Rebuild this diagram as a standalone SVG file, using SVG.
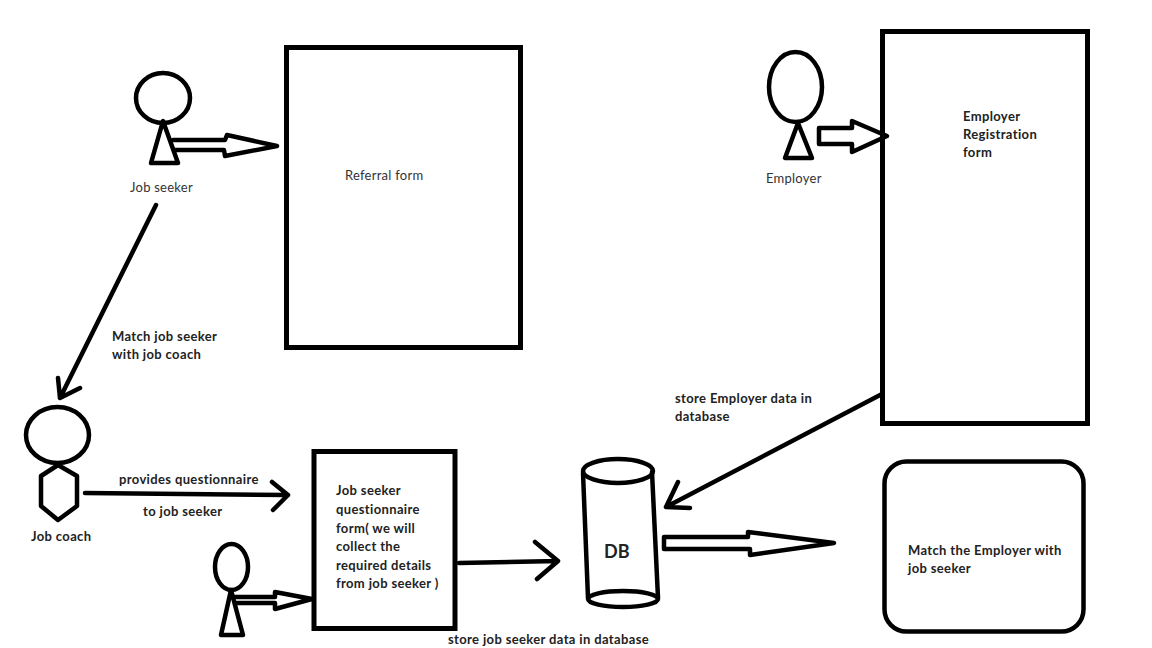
<svg xmlns="http://www.w3.org/2000/svg" width="1152" height="648" viewBox="0 0 1152 648">
<style>
.s{fill:none;stroke:#000;stroke-width:4.500;stroke-linejoin:round;stroke-linecap:round}
.r{fill:none;stroke:#000;stroke-width:5;stroke-linejoin:miter}
.t{font-family:"Lato","Liberation Sans",sans-serif;font-size:13px;letter-spacing:.25px;fill:#333}
.b{font-family:"Lato","Liberation Sans",sans-serif;font-size:13px;letter-spacing:.36px;font-weight:700;fill:#222}
</style>
<rect width="1152" height="648" fill="#fff"/>
<g id="job-seeker">
<ellipse class="s" cx="163" cy="98" rx="27" ry="25"/>
<path class="s" d="M163 121L151 163H178Z"/>
<text class="t" x="130" y="192">Job seeker</text>
</g>
<g id="referral-form">
<rect class="r" x="286.500" y="47.500" width="234" height="300"/>
<text class="t" x="345" y="180">Referral form</text>
</g>
<g id="employer">
<ellipse class="s" cx="795.500" cy="87" rx="26.500" ry="35"/>
<path class="s" d="M798 123L785 158H812Z"/>
<text class="t" x="766" y="183">Employer</text>
</g>
<g id="employer-form">
<rect class="r" x="882.500" y="31.500" width="205" height="392"/>
<text class="b" x="963" y="121">Employer</text>
<text class="b" x="963" y="139">Registration</text>
<text class="b" x="963" y="157">form</text>
</g>
<g id="job-coach">
<ellipse class="s" cx="57.500" cy="435" rx="31.500" ry="28"/>
<path class="s" d="M58 465L77 476V506L58 520L41 506V476Z"/>
<text class="b" x="31" y="541">Job coach</text>
</g>
<g id="questionnaire-form">
<rect class="r" x="314" y="451.500" width="141" height="177"/>
<text class="b" x="336" y="495">Job seeker</text>
<text class="b" x="336" y="514">questionnaire</text>
<text class="b" x="336" y="533">form( we will</text>
<text class="b" x="336" y="551">collect the</text>
<text class="b" x="336" y="570">required details</text>
<text class="b" x="336" y="588">from job seeker )</text>
</g>
<g id="job-seeker-2">
<ellipse class="s" cx="231.500" cy="567" rx="16.500" ry="23"/>
<path class="s" d="M231 590L221 635H243Z"/>
</g>
<g id="db">
<ellipse class="s" cx="618" cy="471" rx="35" ry="12"/>
<path class="s" d="M583 473L588 598M652 472L658 598"/>
<ellipse class="s" cx="623" cy="599" rx="35" ry="8"/>
<text x="604" y="558" style="font-family:Lato,'Liberation Sans',sans-serif;font-size:18px;font-weight:700;fill:#222">DB</text>
</g>
<g id="match">
<rect class="s" x="884.500" y="461.500" width="199" height="170" rx="22"/>
<text class="b" x="908" y="555">Match the Employer with</text>
<text class="b" x="908" y="573">job seeker</text>
</g>
<g id="connectors">
<path class="s" d="M173 140H225L227 135L277 146L225 156L224 150H174"/>
<path class="s" d="M819 128H852V121L887 136L852 152V144H819Z"/>
<path class="s" d="M156 205L60 398M58 378L60 398L80 388"/>
<path class="s" d="M85 493L288 495M272 482L288 495L273 510"/>
<path class="s" d="M233 597H275V592L312 599L275 609V603H235"/>
<path class="s" d="M459 563L558 561M535 542L558 561L537 579"/>
<path class="s" d="M882 394L666 507M678 482L666 507L690 508"/>
<path class="s" d="M664 537H748V532L834 543L750 555V549H664Z"/>
</g>
<g id="labels">
<text class="b" x="112" y="341">Match job seeker</text>
<text class="b" x="112" y="359">with job coach</text>
<text class="b" x="119" y="484">provides questionnaire</text>
<text class="b" x="143" y="516">to job seeker</text>
<text class="b" x="675" y="403">store Employer data in</text>
<text class="b" x="675" y="421">database</text>
<text class="b" x="448" y="644">store job seeker data in database</text>
</g>
</svg>
